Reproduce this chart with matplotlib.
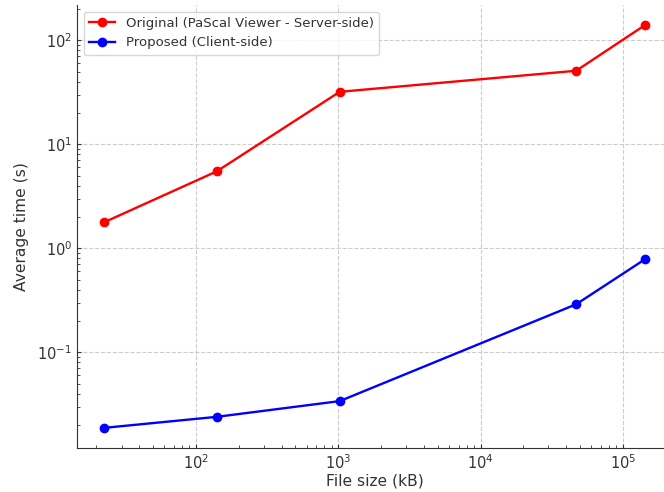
import matplotlib
matplotlib.use("Agg")
import matplotlib.pyplot as plt

file_size_kb = [22.6, 140, 1024, 47000, 143000]
server_side_s = [1.78, 5.5, 32, 51, 140]
client_side_s = [0.0188, 0.024, 0.034, 0.29, 0.785]
series_labels = ["Original (PaScal Viewer - Server-side)", "Proposed (Client-side)"]

text_color = "#333333"
plt.rcParams.update({
    "font.family": "DejaVu Sans",
    "text.color": text_color,
    "axes.labelcolor": text_color,
    "xtick.color": text_color,
    "ytick.color": text_color,
    "axes.edgecolor": text_color,
})

fig = plt.figure(figsize=(6.64, 4.92), dpi=100)
ax = fig.add_axes([77 / 664, 44 / 492, 595 / 664, 443 / 492])

ax.plot(file_size_kb, server_side_s, "-o", color="red", lw=1.7, ms=6, label=series_labels[0])
ax.plot(file_size_kb, client_side_s, "-o", color="blue", lw=1.7, ms=6, label=series_labels[1])
ax.set_xscale("log")
ax.set_yscale("log")

ax.grid(True, which="major", ls="--", color="#cccccc", lw=0.8)
ax.spines["top"].set_visible(False)
ax.spines["right"].set_visible(False)
ax.tick_params(which="both", direction="in", labelsize=10.5, pad=3.5)
ax.tick_params(which="major", length=3, width=0.8)
ax.tick_params(which="minor", length=2, width=0.6)

ax.set_xlabel("File size (kB)", fontsize=11.2, labelpad=1.5)
ax.set_ylabel("Average time (s)", fontsize=11.2, labelpad=6)
ax.legend(loc="upper left", fontsize=9.5)

fig.savefig("out.png", dpi=100)
